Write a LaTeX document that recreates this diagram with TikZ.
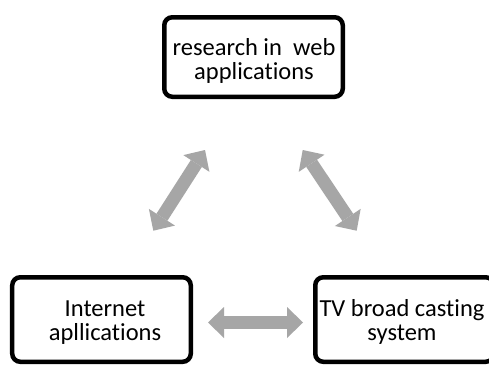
\documentclass[tikz,border=0pt]{standalone}
\usepackage{fontspec}
\setmainfont{Carlito}[Ligatures=NoCommon]
\usetikzlibrary{arrows.meta}
\definecolor{arrowgray}{HTML}{A6A6A6}
\tikzset{
  box/.style={draw=black, line width=4.5bp, rounded corners=8bp, inner sep=0pt,
    minimum width=178.5bp, minimum height=84.5bp},
  label/.style={align=center, inner sep=0pt, font=\fontsize{24.5bp}{24.5bp}\selectfont},
  linkarrow/.style={draw=arrowgray, line width=13bp,
    {Triangle[width=31bp,length=16bp,line width'=0pt]}-{Triangle[width=31bp,length=16bp,line width'=0pt]}}
}
\begin{document}
\begin{tikzpicture}[x=1bp, y=-1bp]
  \clip (0,0) rectangle (489,366);
  \fill[white] (0,0) rectangle (489,366);

  % three boxes
  \node[box, minimum height=79.5bp] (web) at (253.5,57) {};
  \node[box] (inet) at (101.5,319.5) {};
  \node[box] (tv) at (404.5,319.5) {};

  % their labels
  \node[label] (webtxt) at (254,61) {research in\ \ web\\applications};
  \node[label] (inettxt) at (105,322.6) {Internet\\apllications};
  \node[label] (tvtxt) at (402,322) {TV broad casting\\system};

  % ends of the double arrows
  \coordinate (l1) at (205,150);
  \coordinate (l2) at (153.3,230.7);
  \coordinate (r1) at (302.7,150);
  \coordinate (r2) at (356.7,230.7);
  \coordinate (b1) at (208,322.5);
  \coordinate (b2) at (303,322.5);

  \draw[linkarrow] (l1) -- (l2);
  \draw[linkarrow] (r1) -- (r2);
  \draw[linkarrow] (b1) -- (b2);
\end{tikzpicture}
\end{document}
